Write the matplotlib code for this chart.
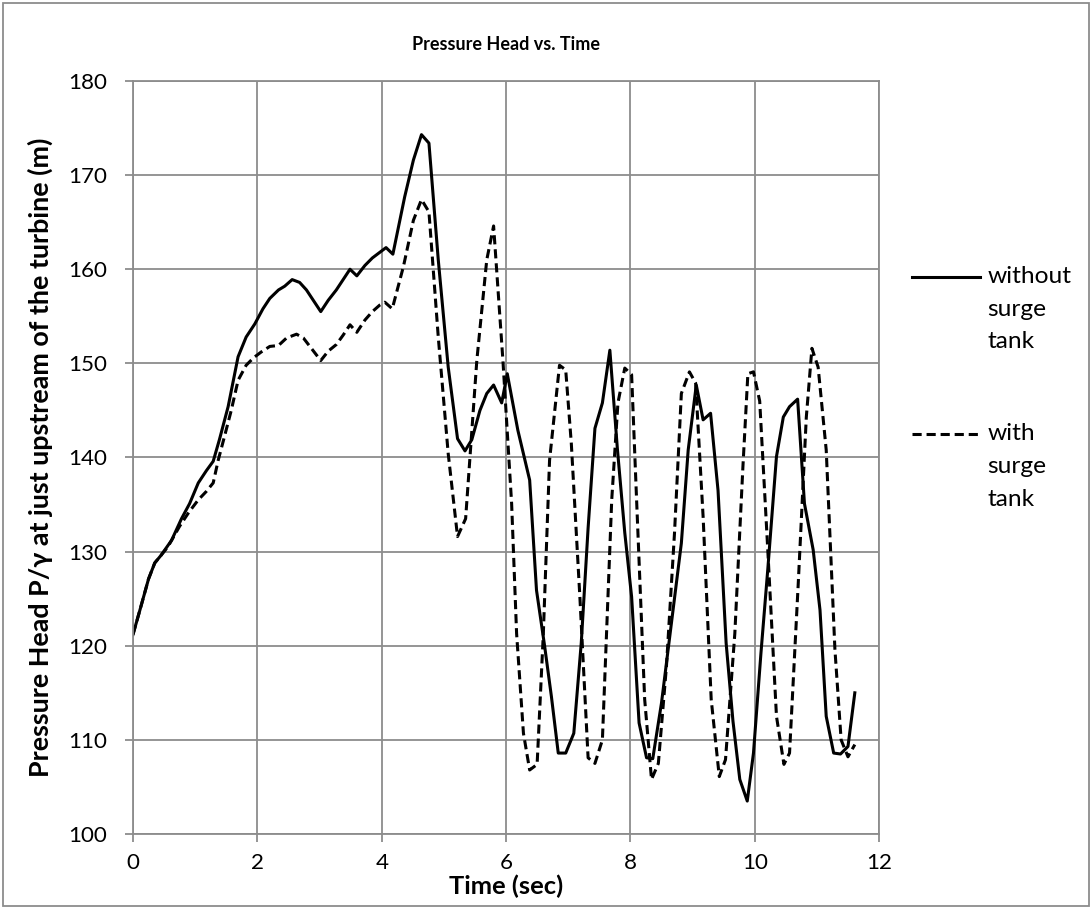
import matplotlib.pyplot as plt
from matplotlib.lines import Line2D
from matplotlib.patches import Rectangle

plt.rcParams['font.family'] = ['Lato', 'DejaVu Sans']

# without surge tank (solid)
t_without = [0.0, 0.12, 0.25, 0.35, 0.45, 0.62, 0.78, 0.91, 1.05, 1.18, 1.29, 1.39, 1.53,
             1.69, 1.82, 1.96, 2.09, 2.20, 2.34, 2.44, 2.56, 2.68, 2.79, 2.91, 3.02, 3.14,
             3.27, 3.38, 3.49, 3.60, 3.73, 3.85, 3.97, 4.07, 4.18, 4.37, 4.51, 4.64, 4.76,
             4.91, 5.07, 5.22, 5.34, 5.45, 5.58, 5.69, 5.80, 5.93, 6.02, 6.19, 6.38, 6.49,
             6.62, 6.73, 6.84, 6.96, 7.09, 7.21, 7.32, 7.43, 7.55, 7.67, 7.79, 7.91, 8.02,
             8.14, 8.26, 8.36, 8.50, 8.66, 8.82, 8.93, 9.06, 9.17, 9.29, 9.41, 9.54, 9.65,
             9.76, 9.88, 9.98, 10.10, 10.21, 10.35, 10.46, 10.56, 10.69, 10.80, 10.94,
             11.05, 11.15, 11.27, 11.38, 11.50, 11.61]
p_without = [121.2, 124.0, 127.1, 128.8, 129.6, 131.2, 133.5, 135.1, 137.3, 138.6, 139.6,
             141.9, 145.4, 150.7, 152.8, 154.2, 155.8, 156.9, 157.8, 158.2, 158.9, 158.6,
             157.8, 156.6, 155.5, 156.7, 157.8, 158.9, 160.0, 159.3, 160.4, 161.2, 161.8,
             162.3, 161.6, 167.7, 171.6, 174.3, 173.4, 161.0, 149.6, 142.0, 140.7, 141.9,
             145.0, 146.8, 147.7, 145.8, 148.9, 142.9, 137.6, 125.9, 120.0, 114.6, 108.6,
             108.6, 110.7, 120.3, 132.5, 143.1, 145.8, 151.4, 141.0, 132.0, 125.2, 111.8,
             108.1, 108.0, 113.9, 122.4, 130.9, 140.8, 147.7, 144.0, 144.7, 136.5, 120.3,
             112.0, 105.8, 103.5, 108.6, 119.2, 128.1, 140.1, 144.3, 145.4, 146.2, 135.1,
             130.2, 123.8, 112.5, 108.6, 108.5, 109.3, 115.0]

# with surge tank (dashed)
t_with = [0.0, 0.12, 0.25, 0.35, 0.45, 0.56, 0.75, 0.90, 1.05, 1.18, 1.29, 1.37, 1.47,
          1.58, 1.69, 1.82, 1.94, 2.06, 2.20, 2.34, 2.47, 2.63, 2.74, 2.88, 3.02, 3.14,
          3.27, 3.38, 3.49, 3.60, 3.73, 3.85, 3.97, 4.05, 4.17, 4.35, 4.51, 4.64, 4.76,
          4.91, 5.07, 5.22, 5.35, 5.53, 5.69, 5.80, 5.95, 6.09, 6.17, 6.28, 6.38, 6.50,
          6.60, 6.70, 6.86, 6.96, 7.05, 7.19, 7.32, 7.43, 7.55, 7.70, 7.80, 7.91, 8.02,
          8.10, 8.23, 8.34, 8.45, 8.58, 8.71, 8.82, 8.95, 9.05, 9.17, 9.30, 9.43, 9.53,
          9.68, 9.81, 9.89, 9.98, 10.08, 10.21, 10.35, 10.47, 10.56, 10.70, 10.83, 10.92,
          11.02, 11.15, 11.29, 11.39, 11.50, 11.61]
p_with = [121.2, 124.0, 127.1, 128.8, 129.6, 130.5, 132.7, 134.2, 135.5, 136.4, 137.3,
          139.7, 142.2, 145.0, 148.2, 149.8, 150.6, 151.2, 151.8, 151.9, 152.7, 153.1,
          152.7, 151.5, 150.3, 151.3, 152.0, 153.0, 154.1, 153.3, 154.6, 155.5, 156.2,
          156.5, 155.8, 160.3, 165.2, 167.4, 166.1, 152.8, 140.4, 131.6, 133.5, 150.3,
          161.0, 164.6, 150.3, 135.1, 121.3, 110.7, 106.8, 107.4, 121.3, 139.7, 149.8,
          149.3, 141.5, 124.9, 108.1, 107.5, 110.0, 135.5, 145.8, 149.5, 148.8, 135.5,
          114.3, 105.8, 107.5, 117.8, 132.0, 146.8, 149.1, 147.9, 133.7, 114.3, 106.1,
          107.9, 121.3, 139.0, 148.9, 149.1, 146.0, 130.2, 112.5, 107.4, 108.6, 126.6,
          144.3, 151.6, 149.6, 140.8, 119.6, 110.0, 108.2, 109.5]

x_ticks = [0, 2, 4, 6, 8, 10, 12]
y_ticks = [100, 110, 120, 130, 140, 150, 160, 170, 180]

title = 'Pressure Head vs. Time'
x_label = 'Time (sec)'
y_label = 'Pressure Head P/\u03b3 at just upstream of the turbine (m)'

fig = plt.figure(figsize=(10.92, 9.09), dpi=100)
renderer = fig.canvas.get_renderer()


def size_for(text, width_px, weight='normal', base=20):
    # font size that makes `text` about width_px wide
    t = fig.text(0, 0, text, fontsize=base, fontweight=weight)
    w = t.get_window_extent(renderer).width
    t.remove()
    return base * width_px / w


fs_tick = size_for('100', 39)
fs_leg = size_for('without', 84)
fs_title = size_for(title, 188, 'bold')
fs_xlab = size_for(x_label, 114, 'bold')
fs_ylab = size_for(y_label, 640, 'bold')

ax = fig.add_axes([0.1218, 0.0825, 0.6832, 0.8284])

ax.plot(t_without, p_without, color='black', linewidth=2.2)
ax.plot(t_with, p_with, color='black', linewidth=2.2, linestyle=(0, (3, 1.6)))

ax.set_xlim(0, 12)
ax.set_ylim(100, 180)
ax.set_xticks(x_ticks)
ax.set_yticks(y_ticks)
ax.grid(True, color='#8c8c8c', linewidth=1.3)
ax.set_axisbelow(True)
for s in ax.spines.values():
    s.set_color('#8c8c8c')
    s.set_linewidth(1.3)
ax.tick_params(direction='out', length=6, width=1.3, color='#8c8c8c', labelsize=fs_tick)
ax.tick_params(axis='x', pad=7.5)
ax.tick_params(axis='y', pad=12.5)

ax.set_title(title, fontsize=fs_title, fontweight='bold', pad=22)
ax.set_xlabel(x_label, fontsize=fs_xlab, fontweight='bold', labelpad=1)
fig.text(0.0366, 0.0825 + 0.8284 / 2, y_label, fontsize=fs_ylab, fontweight='bold',
         rotation=90, ha='center', va='center')

# legend drawn by hand, to the right of the plot
fig.add_artist(Line2D([0.835, 0.897], [0.6953, 0.6953], color='black', linewidth=2.2))
fig.text(0.904, 0.6953, 'without', fontsize=fs_leg, va='center')
fig.text(0.904, 0.6595, 'surge', fontsize=fs_leg, va='center')
fig.text(0.904, 0.6238, 'tank', fontsize=fs_leg, va='center')
fig.add_artist(Line2D([0.835, 0.897], [0.5226, 0.5226], color='black', linewidth=2.2,
                      linestyle=(0, (3, 1.6))))
fig.text(0.904, 0.5226, 'with', fontsize=fs_leg, va='center')
fig.text(0.904, 0.4868, 'surge', fontsize=fs_leg, va='center')
fig.text(0.904, 0.4510, 'tank', fontsize=fs_leg, va='center')

fig.add_artist(Rectangle((0.003, 0.003), 0.994, 0.994, transform=fig.transFigure,
                         fill=False, edgecolor='#8c8c8c', linewidth=1.3))

fig.savefig('out.png', dpi=100)
